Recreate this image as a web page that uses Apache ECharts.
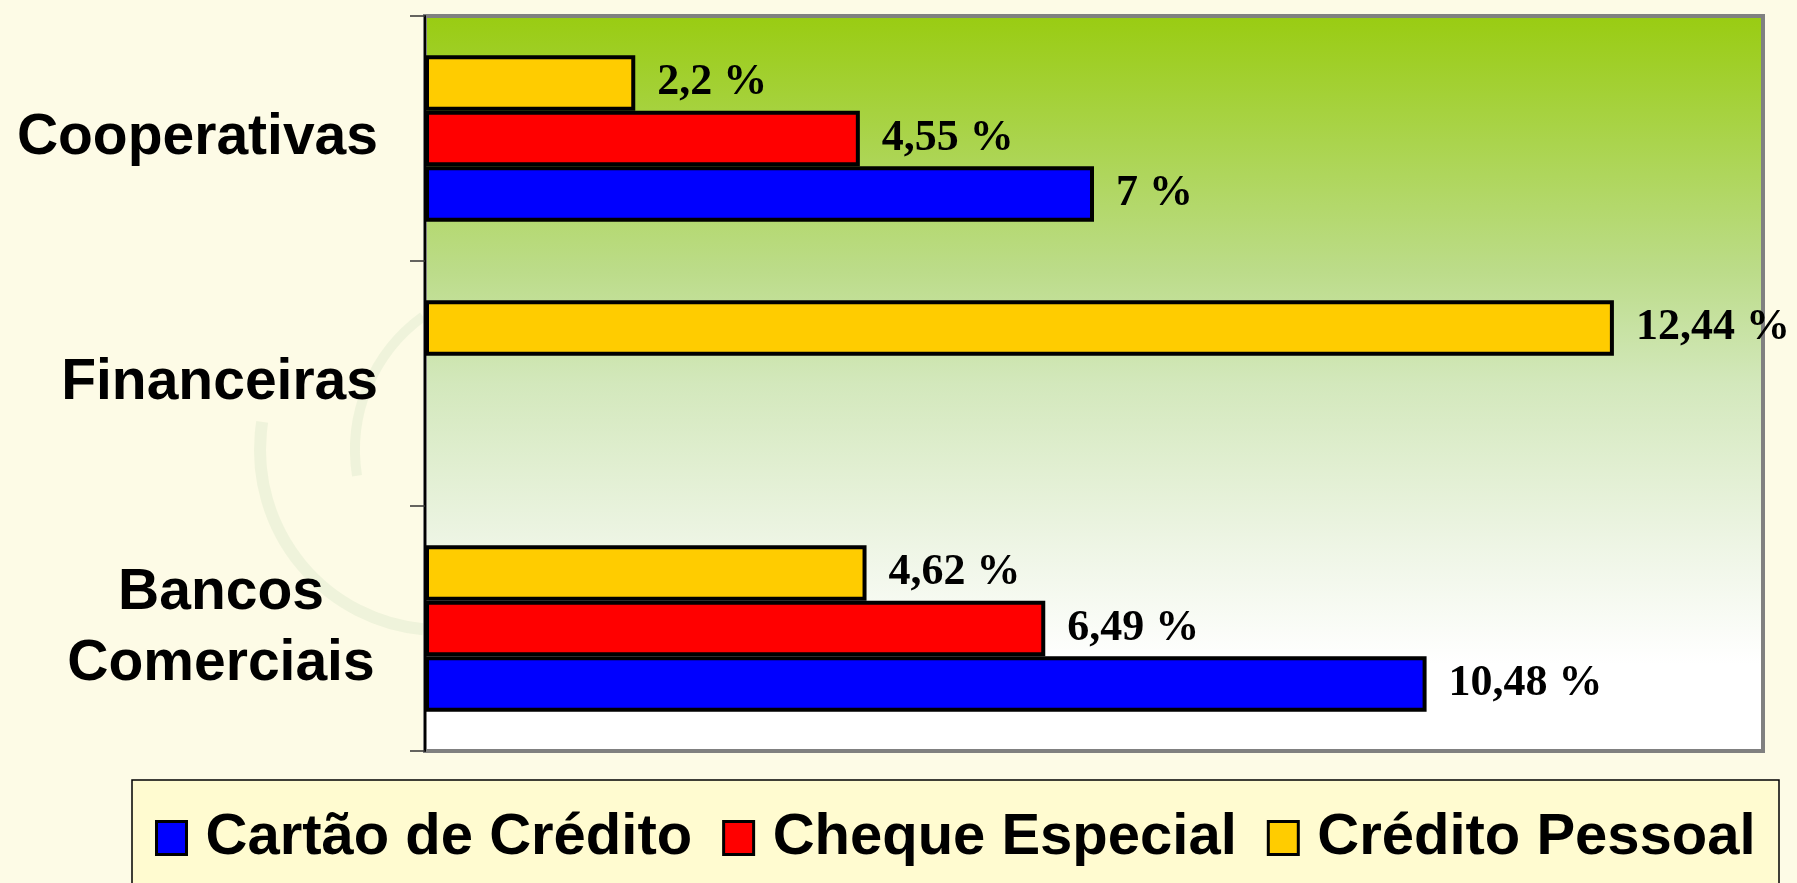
<!DOCTYPE html>
<html>
<head>
<meta charset="utf-8">
<script src="https://cdn.jsdelivr.net/npm/echarts@6/dist/echarts.min.js"></script>
<style>
  html, body { margin: 0; padding: 0; background: #FDFBE6; }
  #viz { width: 1797px; height: 883px; }
</style>
</head>
<body>
<div id="viz"></div>
<script>
// categories, bottom to top (the category axis starts at the bottom)
var categorias = ['Bancos Comerciais', 'Financeiras', 'Cooperativas'];
var nomesSeries = ['Cartão de Crédito', 'Cheque Especial', 'Crédito Pessoal'];
var cartao = [10.48, null, 7];
var cheque = [6.49, null, 4.55];
var pessoal = [4.62, 12.44, 2.2];
var cores = ['#0000FF', '#FF0000', '#FFCC00'];

function rotulo(p) {
    // 4.55 -> "4,55 %"
    return String(p.value).replace('.', ',') + ' %';
}

function serie(nome, valores, cor) {
    return {
        name: nome,
        type: 'bar',
        data: valores,
        barGap: '0%',
        barCategoryGap: '32%',
        itemStyle: {
            color: cor,
            borderColor: '#000',
            borderWidth: 4
        },
        label: {
            show: true,
            position: 'right',
            distance: 22,
            formatter: rotulo,
            fontFamily: '"Liberation Serif", "DejaVu Serif", serif',
            fontWeight: 'bold',
            fontSize: 44,
            color: '#000'
        }
    };
}

function plotrun() {
    var dom = document.getElementById('viz');
    var myChart = echarts.init(dom);
    var option = {
        backgroundColor: '#FDFBE6',
        animation: false,
        graphic: [
            // faint decorative swirl behind the labels
            {
                type: 'arc', z: -1, silent: true,
                shape: { cx: 440, cy: 450, r: 180, startAngle: Math.PI * 0.53, endAngle: Math.PI * 1.05 },
                style: { stroke: 'rgba(170, 205, 160, 0.16)', lineWidth: 12, fill: null }
            },
            {
                type: 'arc', z: -1, silent: true,
                shape: { cx: 520, cy: 450, r: 165, startAngle: Math.PI * 0.95, endAngle: Math.PI * 1.3 },
                style: { stroke: 'rgba(170, 205, 160, 0.16)', lineWidth: 10, fill: null }
            },
            // legend box
            {
                type: 'rect', z: -1, silent: true,
                shape: { x: 132, y: 780, width: 1647, height: 120 },
                style: { fill: '#FFFBD0', stroke: '#000', lineWidth: 1.5 }
            }
        ],
        legend: {
            left: 150,
            top: 804,
            icon: 'rect',
            itemWidth: 30,
            itemHeight: 33,
            itemGap: 30,
            data: nomesSeries,
            itemStyle: { borderColor: '#000', borderWidth: 3 },
            textStyle: {
                fontFamily: '"Liberation Sans", Arial, sans-serif',
                fontWeight: 'bold',
                fontSize: 58,
                color: '#000',
                padding: [0, 0, 0, 14]
            }
        },
        grid: {
            left: 425,
            right: 34,
            top: 16,
            bottom: 132,
            show: true,
            borderColor: '#808080',
            borderWidth: 4,
            backgroundColor: new echarts.graphic.LinearGradient(0, 0, 0, 1, [
                { offset: 0, color: '#99CC11' },
                { offset: 0.35, color: '#BCDC8A' },
                { offset: 0.5, color: '#D3E8BC' },
                { offset: 0.72, color: '#EEF5E5' },
                { offset: 0.88, color: '#FFFFFF' },
                { offset: 1, color: '#FFFFFF' }
            ])
        },
        xAxis: {
            type: 'value',
            min: 0,
            max: 14,
            show: false
        },
        yAxis: {
            type: 'category',
            data: categorias,
            axisLine: { show: true, lineStyle: { color: '#000', width: 2 } },
            axisTick: { show: true, length: 15, lineStyle: { color: '#333', width: 1.5 } },
            axisLabel: {
                margin: 47,
                fontFamily: '"Liberation Sans", Arial, sans-serif',
                fontWeight: 'bold',
                fontSize: 57,
                color: '#000',
                lineHeight: 71,
                formatter: function (v) {
                    var partes = v.split(' ');
                    if (partes.length == 1) return v;
                    return partes.map(function (p) { return '{c|' + p + '}'; }).join('\n');
                },
                rich: {
                    c: {
                        width: 314,
                        align: 'center',
                        fontFamily: '"Liberation Sans", Arial, sans-serif',
                        fontWeight: 'bold',
                        fontSize: 57,
                        lineHeight: 71,
                        color: '#000'
                    }
                }
            }
        },
        // series listed top slot first, so the legend keeps its own order
        series: [
            serie(nomesSeries[2], pessoal, cores[2]),
            serie(nomesSeries[1], cheque, cores[1]),
            serie(nomesSeries[0], cartao, cores[0])
        ]
    };
    myChart.setOption(option, true);
}

plotrun();
</script>
</body>
</html>
